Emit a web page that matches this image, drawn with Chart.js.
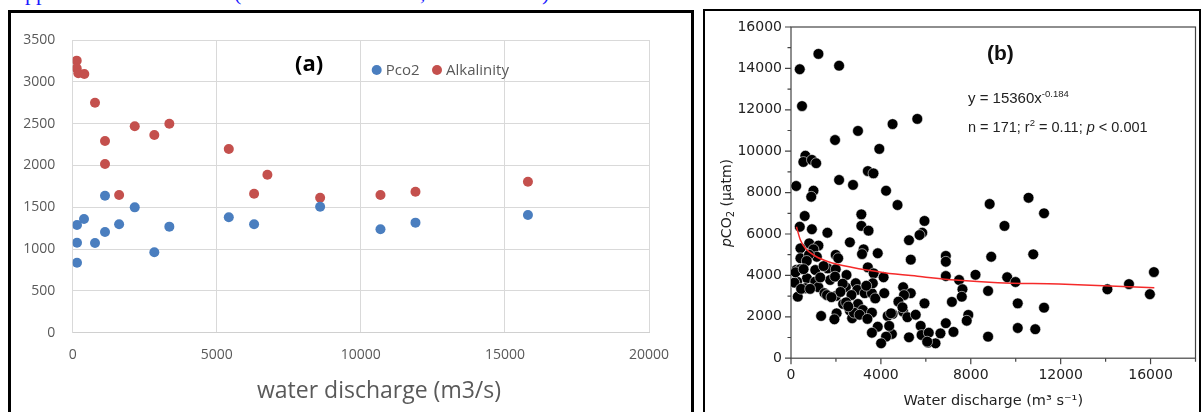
<!DOCTYPE html>
<html><head><meta charset="utf-8">
<script src="https://cdn.jsdelivr.net/npm/chart.js@4.4.1/dist/chart.umd.min.js"></script>
<style>
html,body{margin:0;padding:0;background:#fff;width:1204px;height:412px;overflow:hidden;position:relative}
canvas{position:absolute}
#c1{left:0;top:0}
#c2{left:700px;top:0}
.box{position:absolute;border-style:solid;border-color:#000;pointer-events:none}
#boxA{left:8px;top:10px;width:680px;height:420px;border-width:3px 3px 0 3px}
#boxB{left:703px;top:9px;width:494px;height:420px;border-width:2px 2px 0 2px}
.cut{position:absolute;left:0;top:0;width:700px;height:9px;overflow:hidden}
.cut span{position:absolute;top:-18px;font:22px 'Liberation Serif';color:#1a1aff;line-height:22px;white-space:pre}
.lab{position:absolute;white-space:nowrap}
#la{left:295px;top:50px;font:bold 22px 'Open Sans';line-height:24px;color:#000}
#lb{left:987px;top:42px;font:bold 21px 'Liberation Sans';line-height:22px;color:#111}
#eq1{left:968px;top:89px;font:15px 'Liberation Sans';line-height:18px;color:#222}
#eq2{left:968px;top:118px;font:14.5px 'Liberation Sans';line-height:18px;color:#222}
sup{font-size:9.5px;vertical-align:6px;line-height:0}
</style></head>
<body>
<div class="cut"><span style="left:25px">pp</span><span style="left:234px">(</span><span style="left:420px">,</span><span style="left:542px">)</span></div>
<canvas id="c1" width="698" height="412"></canvas>
<canvas id="c2" width="504" height="412"></canvas>
<div class="box" id="boxA"></div>
<div class="box" id="boxB"></div>
<div class="lab" id="la">(a)</div>
<div class="lab" id="lb">(b)</div>
<div class="lab" id="eq1">y = 15360x<sup>-0.184</sup></div>
<div class="lab" id="eq2">n = 171; r<sup>2</sup> = 0.11; <i>p</i> &lt; 0.001</div>
<script>
// ---------- Panel (a) data ----------
const qPco2 = [149,149,149,392,774,1121,1121,1611,2153,2833,3354,5417,6295,8587,10681,11896,15799];
const pco2A = [1288,1076,837,1360,1073,1638,1204,1296,1499,961,1268,1380,1296,1507,1236,1316,1407];
const qAlk  = [139,139,195,403,774,1121,1121,1611,2153,2833,3354,5417,6295,6757,8587,10681,11896,15799];
const alkA  = [3253,3161,3102,3094,2750,2292,2017,1647,2468,2364,2499,2197,1662,1889,1614,1647,1686,1806];
const xTicksA = [0,5000,10000,15000,20000];
const yTicksA = [0,500,1000,1500,2000,2500,3000,3500];

// ---------- Panel (b) data ----------
const qB = [390,1220,2140,490,5620,4520,2980,1960,3930,640,550,930,1120,3420,3670,2140,2760,230,1000,4230,900,4740,8840,10570,11260,9500,8910,10780,9620,9990,8770,10090,11260,10090,10870,14080,15040,15970,16150,8770,
 5940,5840,5720,5250,5330,6890,6890,6890,7480,8210,7630,7600,4990,5330,5030,4780,4990,4520,5180,5550,5940,7160,7890,7820,5770,6890,4490,5250,5810,6130,6100,6430,6650,7230,
 610,3130,3130,3450,390,930,1620,2620,810,1220,420,1000,3230,3860,3160,420,1150,1990,2100,1630,1080,230,420,2470,1990,3420,3680,4120,710,270,1740,1960,1080,2880,640,1220,1490,300,2440,2950,3280,3600,2000,2690,2320,2980,3750,3200,2620,2030,1340,1930,2720,3600,4300,4450,3860,4230,3600,4010,4370,
 4150,3640,4960,6060,150,200,450,800,1300,1600,700,2300,2800,3350,2450,
 560,850,1450,2200,2550,3050,3400,1800];
const pco2B = [13960,14700,14130,12180,11560,11310,10980,10540,10110,9780,9480,9580,9420,9040,8930,8610,8370,8320,8090,8090,7800,7400,7450,7750,7000,6390,4900,5020,3910,3680,3250,2650,2440,1460,1400,3330,3580,3090,4160,1040,
 6630,6060,5950,5700,4760,4940,4660,3970,3780,4030,3330,2970,3430,3140,3050,2730,2250,2140,1980,2100,2650,2720,2090,1810,1560,1690,1170,1010,1120,1230,750,720,1200,1270,
 6870,6950,6390,6160,6350,6230,6060,5600,5550,5440,5310,5260,5260,5070,5030,4830,4900,4990,4830,4340,4260,4260,4300,4020,4300,4390,4100,3910,3860,3700,3780,3940,3700,3620,3380,3430,3140,2970,3430,3300,3140,3140,3010,3050,2620,2620,2890,2330,2300,2170,2040,1880,1930,2200,2040,2170,1520,1040,1230,720,1560,
 3140,3620,2460,800,3650,4150,3350,5000,3900,3050,4700,3600,2200,3500,2700,
 4300,3350,4450,3200,2500,2100,1900,2950];
const fitQ = [242,418,637,1077,1661,2690,4154,5838,7306,9209,11921,16168];
const fitP = [6353,5710,5309,4937,4662,4391,4130,3937,3778,3647,3584,3406];
const xTicksB = [0,4000,8000,12000,16000];
const yTicksB = [0,2000,4000,6000,8000,10000,12000,14000,16000];

const pts = (xs, ys) => xs.map((x, i) => ({x, y: ys[i]}));

// ---------- Chart (a) ----------
const legendA = {
  id: 'legendA',
  afterDraw(chart) {
    const ctx = chart.ctx;
    const xs = [376.7, 437];
    ctx.save();
    chart.data.datasets.forEach((ds, i) => {
      ctx.fillStyle = ds.backgroundColor;
      ctx.beginPath(); ctx.arc(xs[i], 70, 5, 0, Math.PI * 2); ctx.fill();
      ctx.fillStyle = '#595959'; ctx.font = '15px "Open Sans"'; ctx.textBaseline = 'middle';
      ctx.fillText(ds.label, xs[i] + 9, 70.5);
    });
    ctx.font = '23px "Open Sans"'; ctx.textAlign = 'center'; ctx.fillStyle = '#595959';
    ctx.fillText('water discharge (m3/s)', 379, 391);
    ctx.restore();
  }
};
new Chart(document.getElementById('c1'), {
  type: 'scatter',
  data: { datasets: [
    { label: 'Pco2', data: pts(qPco2, pco2A), backgroundColor: '#4A7EBF', borderWidth: 0, pointRadius: 5 },
    { label: 'Alkalinity', data: pts(qAlk, alkA), backgroundColor: '#C4504D', borderWidth: 0, pointRadius: 5 }
  ]},
  options: {
    responsive: false, animation: false,
    layout: { padding: { left: 0, top: 40, right: 49, bottom: 0 } },
    plugins: { legend: { display: false }, tooltip: { enabled: false } },
    scales: {
      x: { type: 'linear', min: 0, max: 20000,
        afterBuildTicks: s => { s.ticks = xTicksA.map(v => ({value: v})); },
        afterFit: s => { s.height = 79.3; },
        grid: { color: '#d9d9d9', drawTicks: false }, border: { color: '#d0d0d0' },
        ticks: { padding: 14, color: '#595959', font: { family: 'Open Sans', size: 14 }, maxRotation: 0, callback: v => String(v) } },
      y: { min: 0, max: 3500,
        afterBuildTicks: s => { s.ticks = yTicksA.map(v => ({value: v})); },
        afterFit: s => { s.width = 72.7; },
        grid: { color: '#d9d9d9', drawTicks: false }, border: { color: '#d9d9d9' },
        ticks: { padding: 17.5, color: '#595959', font: { family: 'Open Sans', size: 14 }, callback: v => String(v) } }
    }
  },
  plugins: [legendA]
});

// ---------- Chart (b) ----------
const frameB = {
  id: 'frameB',
  beforeDatasetsDraw(chart) {
    const {ctx, chartArea: a, scales: {x, y}} = chart;
    ctx.save();
    ctx.strokeStyle = '#444'; ctx.lineWidth = 1.2;
    ctx.strokeRect(a.left, a.top, a.right - a.left, a.bottom - a.top);
    ctx.beginPath();
    y.ticks.forEach(t => { const py = y.getPixelForValue(t.value); const L = (t.value % 2000 === 0) ? 6 : 3.5; ctx.moveTo(a.left - L, py); ctx.lineTo(a.left, py); });
    x.ticks.forEach(t => { const px = x.getPixelForValue(t.value); const L = (t.value % 4000 === 0) ? 6 : 3.5; ctx.moveTo(px, a.bottom); ctx.lineTo(px, a.bottom + L); });
    ctx.stroke();
    // y title
    ctx.translate(27, 203); ctx.rotate(-Math.PI / 2);
    const parts = [
      {t: 'p', f: 'italic 14px "DejaVu Sans"', dy: 0},
      {t: 'CO', f: '14px "DejaVu Sans"', dy: 0},
      {t: '2', f: '10px "DejaVu Sans"', dy: 4},
      {t: ' (µatm)', f: '14px "DejaVu Sans"', dy: 0}
    ];
    let w = 0;
    parts.forEach(p => { ctx.font = p.f; p.w = ctx.measureText(p.t).width; w += p.w; });
    let cx = -w / 2;
    ctx.fillStyle = '#222'; ctx.textBaseline = 'middle';
    parts.forEach(p => { ctx.font = p.f; ctx.fillText(p.t, cx, p.dy); cx += p.w; });
    ctx.restore();
  }
};
new Chart(document.getElementById('c2'), {
  type: 'scatter',
  data: { datasets: [
    { type: 'line', label: 'fit', data: pts(fitQ, fitP), borderColor: '#f52a2a', borderWidth: 1.5,
      pointRadius: 0, fill: false, tension: 0.4, cubicInterpolationMode: 'monotone', showLine: true },
    { label: 'pCO2', data: pts(qB, pco2B), backgroundColor: '#000', borderColor: 'rgba(255,255,255,0.7)', borderWidth: 0.8, pointRadius: 5.4 }
  ]},
  options: {
    responsive: false, animation: false,
    layout: { padding: { left: 0, top: 27, right: 5.5, bottom: 0 } },
    plugins: { legend: { display: false }, tooltip: { enabled: false } },
    scales: {
      x: { type: 'linear', min: 0, max: 18000,
        afterBuildTicks: s => { const t = []; for (let v = 0; v <= 18000; v += 2000) t.push({value: v}); s.ticks = t; },
        afterFit: s => { s.height = 53.8; },
        grid: { display: false, drawTicks: false }, border: { display: false },
        ticks: { padding: 8.5, color: '#222', autoSkip: false, maxRotation: 0, font: { family: 'DejaVu Sans', size: 14 },
          callback: v => xTicksB.includes(v) ? String(v) : '' },
        title: { display: true, text: 'Water discharge (m³ s⁻¹)', color: '#222', font: { family: 'DejaVu Sans', size: 14.5 }, padding: { top: 2, bottom: 2 } } },
      y: { min: 0, max: 16000,
        afterBuildTicks: s => { const t = []; for (let v = 0; v <= 16000; v += 1000) t.push({value: v}); s.ticks = t; },
        afterFit: s => { s.width = 91; },
        grid: { display: false, drawTicks: false }, border: { display: false },
        ticks: { padding: 9, color: '#222', autoSkip: false, font: { family: 'DejaVu Sans', size: 14 },
          callback: v => yTicksB.includes(v) ? String(v) : '' } }
    }
  },
  plugins: [frameB]
});
</script>
</body></html>
